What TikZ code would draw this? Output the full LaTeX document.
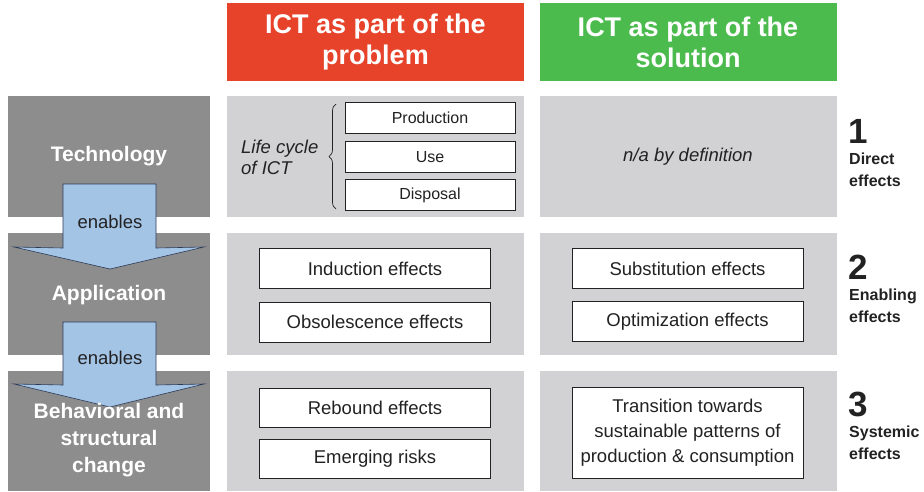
\documentclass[tikz,border=0pt]{standalone}
\usepackage{fontspec}
\setmainfont{Liberation Sans}
\usetikzlibrary{decorations.pathreplacing}
\definecolor{probred}{RGB}{230,67,42}
\definecolor{solgreen}{RGB}{76,187,78}
\definecolor{darkpanel}{RGB}{141,141,141}
\definecolor{lightpanel}{RGB}{210,210,212}
\definecolor{arrowblue}{RGB}{164,196,230}
\definecolor{arrowline}{RGB}{45,58,85}
\definecolor{textgray}{RGB}{34,34,34}

\begin{document}
\begin{tikzpicture}[x=1pt,y=1pt,yscale=-1,xscale=1,
  hdr/.style={fill=#1, minimum width=297pt, minimum height=78pt, inner sep=0pt,
    text=white, align=center, font=\fontsize{27}{31}\selectfont\bfseries},
  lvl/.style={fill=darkpanel, minimum width=202pt, inner sep=0pt,
    text=white, align=center, font=\fontsize{21}{27}\selectfont\bfseries},
  panel/.style={fill=lightpanel, minimum width=297pt, inner sep=0pt},
  wbox/.style={draw=textgray, line width=0.8pt, fill=white, inner sep=0pt,
    text=textgray, align=center, font=\fontsize{18.5}{25}\selectfont},
  smallbox/.style={wbox, minimum width=170pt, minimum height=31pt, font=\fontsize{16}{20}\selectfont},
  effbox/.style={wbox, minimum width=231pt, minimum height=40pt},
  efflabel/.style={anchor=north west, inner sep=0pt, text=textgray, align=left,
    font=\fontsize{16}{21.5}\selectfont\bfseries},
  efnum/.style={anchor=west, inner sep=0pt, text=textgray,
    font=\fontsize{35}{35}\selectfont\bfseries},
  enarrow/.style={fill=arrowblue, draw=arrowline, line width=0.6pt, line join=miter}
]
\useasboundingbox (0,0) rectangle (924,491);

%Headers
\node[hdr=probred] (hprob) at (375.5,42) {ICT as part of the\\problem};
\node[hdr=solgreen] (hsol) at (688,42) {ICT as part of the\\solution};

%Left column: levels
\node[lvl, minimum height=121pt] (tech) at (109,156.5) {};
\node[lvl, minimum height=122pt] (appl) at (109,294) {};
\node[lvl, minimum height=120pt] (behav) at (109,431) {};

%Middle and right panels
\node[panel, minimum height=121pt] (pdir) at (375.5,156.5) {};
\node[panel, minimum height=122pt] (pena) at (375.5,294) {};
\node[panel, minimum height=120pt] (psys) at (375.5,431) {};
\node[panel, minimum height=121pt] (sdir) at (688,156.5) {};
\node[panel, minimum height=122pt] (sena) at (688,294) {};
\node[panel, minimum height=120pt] (ssys) at (688,431) {};

%Block arrows
\draw[enarrow] (63,184) -- (156,184) -- (156,248) -- (204,247) -- (110,269)
  -- (14,247) -- (63,248) -- cycle;
\draw[enarrow] (63,322) -- (156,322) -- (156,385) -- (204,384) -- (110,407)
  -- (14,384) -- (63,385) -- cycle;

%Level texts
\node[lvl, fill=none] (ttech) at (tech) {Technology};
\node[lvl, fill=none] (tappl) at (109,295) {Application};
\node[lvl, fill=none] (tbehav) at (109,440) {Behavioral and\\structural\\change};
\node[text=textgray, font=\fontsize{18.5}{22}\selectfont] (en1) at (110,222) {enables};
\node[text=textgray, font=\fontsize{18.5}{22}\selectfont] (en2) at (110,358) {enables};

%Life cycle of ICT
\node[anchor=west, inner sep=0pt, align=left, text=textgray,
  font=\fontsize{18.5}{21}\itshape] (lcyc) at (241,157) {Life cycle\\of ICT};
\draw[textgray, line width=0.7pt, decorate, decoration={brace, amplitude=7pt}]
  (336,209) -- (336,104);
\node[smallbox] (prod) at (430,118) {Production};
\node[smallbox] (use) at (430,157) {Use};
\node[smallbox] (disp) at (430,195) {Disposal};

%Problem effects
\node[effbox] (induc) at (375,268.5) {Induction effects};
\node[effbox] (obsol) at (375,322) {Obsolescence effects};
\node[effbox, minimum height=39pt] (rebou) at (375,407.5) {Rebound effects};
\node[effbox, minimum height=39pt] (emerg) at (375,458.5) {Emerging risks};

%Solution effects
\node[text=textgray, font=\fontsize{18.5}{22}\selectfont\itshape] (nadef) at (sdir) {n/a by definition};
\node[effbox] (subst) at (687.5,268.5) {Substitution effects};
\node[effbox] (optim) at (687.5,321.5) {Optimization effects};
\node[effbox, minimum height=91pt] (trans) at (687.5,432.5)
  {Transition towards\\sustainable patterns of\\production \& consumption};

%Effect levels
\node[efnum] (n1) at (848,131) {1};
\node[efflabel] (l1) at (849,153) {Direct\\effects};
\node[efnum] (n2) at (848,267) {2};
\node[efflabel] (l2) at (849,289) {Enabling\\effects};
\node[efnum] (n3) at (848,404) {3};
\node[efflabel] (l3) at (849,426) {Systemic\\effects};
\end{tikzpicture}
\end{document}
